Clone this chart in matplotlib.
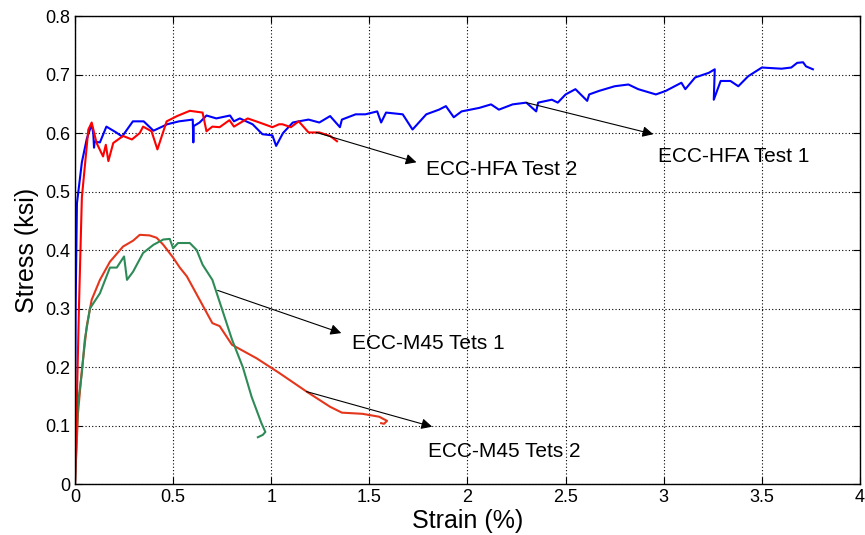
import matplotlib
matplotlib.use("Agg")
import matplotlib.pyplot as plt

# ECC-HFA Test 1 (blue)
hfa1_x = [0, 0.003, 0.01, 0.035, 0.06, 0.085, 0.093, 0.097, 0.10, 0.127, 0.16, 0.21, 0.24,
          0.295, 0.35, 0.40, 0.47, 0.53, 0.60, 0.603, 0.605, 0.635, 0.67, 0.72, 0.79,
          0.81, 0.84, 0.905, 0.955, 1.006, 1.025, 1.06, 1.11, 1.14, 1.19, 1.245, 1.30,
          1.35, 1.36, 1.43, 1.48, 1.54, 1.56, 1.585, 1.67, 1.72, 1.79, 1.855, 1.89,
          1.93, 1.97, 2.06, 2.12, 2.16, 2.23, 2.30, 2.35, 2.36, 2.43, 2.46, 2.50,
          2.55, 2.61, 2.62, 2.67, 2.75, 2.82, 2.87, 2.96, 3.01, 3.09, 3.11, 3.16,
          3.23, 3.26, 3.255, 3.29, 3.34, 3.38, 3.43, 3.50, 3.60, 3.65, 3.68, 3.71,
          3.725, 3.76]
hfa1_y = [0, 0.30, 0.48, 0.55, 0.59, 0.615, 0.60, 0.575, 0.585, 0.584, 0.611, 0.601, 0.594,
          0.62, 0.62, 0.604, 0.615, 0.62, 0.623, 0.584, 0.612, 0.618, 0.63, 0.625, 0.63,
          0.62, 0.625, 0.615, 0.598, 0.596, 0.578, 0.60, 0.618, 0.62, 0.623, 0.618, 0.629,
          0.61, 0.623, 0.632, 0.632, 0.637, 0.618, 0.635, 0.632, 0.606, 0.632, 0.64, 0.646,
          0.627, 0.637, 0.643, 0.649, 0.64, 0.649, 0.652, 0.637, 0.652, 0.657, 0.652, 0.666,
          0.675, 0.655, 0.666, 0.672, 0.68, 0.683, 0.675, 0.666, 0.672, 0.686, 0.675, 0.695,
          0.703, 0.709, 0.657, 0.689, 0.689, 0.68, 0.697, 0.712, 0.71, 0.712, 0.72, 0.721,
          0.714, 0.709]

# ECC-HFA Test 2 (red)
hfa2_x = [0, 0.02, 0.035, 0.068, 0.085, 0.11, 0.143, 0.157, 0.17, 0.195, 0.245, 0.29,
          0.33, 0.347, 0.39, 0.42, 0.467, 0.52, 0.585, 0.65, 0.67, 0.70, 0.737, 0.787,
          0.81, 0.88, 0.94, 1.006, 1.04, 1.057, 1.10, 1.14, 1.19, 1.245, 1.30, 1.335]
hfa2_y = [0, 0.30, 0.49, 0.606, 0.618, 0.583, 0.56, 0.58, 0.552, 0.583, 0.595, 0.589,
          0.60, 0.611, 0.603, 0.572, 0.62, 0.629, 0.638, 0.635, 0.603, 0.611, 0.61, 0.622,
          0.611, 0.625, 0.618, 0.61, 0.615, 0.615, 0.61, 0.62, 0.601, 0.601, 0.595, 0.586]

# ECC-M45 Tets 1 (green)
m45_1_x = [0, 0.015, 0.035, 0.05, 0.076, 0.127, 0.178, 0.213, 0.25, 0.265, 0.296, 0.347,
           0.40, 0.45, 0.483, 0.50, 0.525, 0.585, 0.62, 0.65, 0.70, 0.75, 0.80, 0.855,
           0.90, 0.95, 0.97, 0.957, 0.932]
m45_1_y = [0, 0.137, 0.19, 0.247, 0.30, 0.326, 0.37, 0.37, 0.389, 0.349, 0.363, 0.395,
           0.409, 0.418, 0.419, 0.403, 0.412, 0.412, 0.40, 0.375, 0.349, 0.298, 0.247, 0.20,
           0.149, 0.104, 0.089, 0.084, 0.080]

# ECC-M45 Tets 2 (orange-red)
m45_2_x = [0, 0.015, 0.035, 0.06, 0.085, 0.127, 0.178, 0.245, 0.296, 0.33, 0.38, 0.416,
           0.45, 0.50, 0.534, 0.57, 0.635, 0.70, 0.737, 0.80, 0.925, 1.04, 1.18, 1.30,
           1.36, 1.465, 1.55, 1.59, 1.575, 1.56]
m45_2_y = [0, 0.12, 0.195, 0.27, 0.315, 0.349, 0.38, 0.406, 0.416, 0.426, 0.425, 0.421,
           0.409, 0.387, 0.37, 0.355, 0.315, 0.275, 0.27, 0.238, 0.215, 0.19, 0.158, 0.132,
           0.122, 0.12, 0.115, 0.108, 0.103, 0.104]

# annotations: label, arrow tail, arrow head, text position
notes = [
    ("ECC-HFA Test 1", (2.30, 0.652), (2.947, 0.598), (2.97, 0.56)),
    ("ECC-HFA Test 2", (1.23, 0.601), (1.74, 0.55), (1.79, 0.537)),
    ("ECC-M45 Tets 1", (0.727, 0.331), (1.357, 0.258), (1.41, 0.241)),
    ("ECC-M45 Tets 2", (1.18, 0.158), (1.82, 0.098), (1.80, 0.055)),
]

plt.rcParams["font.family"] = ["Liberation Sans", "DejaVu Sans"]

fig = plt.figure(figsize=(8.65, 5.35), dpi=100)
ax = fig.add_axes([0.0867, 0.0953, 0.9075, 0.8747])

ax.plot(m45_2_x, m45_2_y, color="#e4361b", lw=1.5)
ax.plot(m45_1_x, m45_1_y, color="#2e8b57", lw=1.5)
ax.plot(hfa1_x, hfa1_y, color="#0000ff", lw=1.5)
ax.plot(hfa2_x, hfa2_y, color="#ff0000", lw=1.5)

for label, tail, head, txt in notes:
    ax.annotate("", xy=head, xytext=tail,
                arrowprops=dict(arrowstyle="-|>", color="k", lw=0.8,
                                mutation_scale=16, shrinkA=0, shrinkB=0))
    ax.text(txt[0], txt[1], label, fontsize=15, va="center", ha="left")

ax.set_xlim(0, 4)
ax.set_ylim(0, 0.8)
ax.set_xticks([0, 0.5, 1, 1.5, 2, 2.5, 3, 3.5, 4])
ax.set_xticklabels(["0", "0.5", "1", "1.5", "2", "2.5", "3", "3.5", "4"])
ax.set_yticks([0, 0.1, 0.2, 0.3, 0.4, 0.5, 0.6, 0.7, 0.8])
ax.set_yticklabels(["0", "0.1", "0.2", "0.3", "0.4", "0.5", "0.6", "0.7", "0.8"])
ax.tick_params(direction="in", top=True, right=True, labelsize=13, length=5)
ax.grid(True, color="k", linestyle=(0, (1, 2)), lw=0.8)
for s in ax.spines.values():
    s.set_linewidth(1.0)

ax.set_xlabel("Strain (%)", fontsize=18, labelpad=2)
ax.set_ylabel("Stress (ksi)", fontsize=18, labelpad=4)

fig.savefig("out.png", dpi=100)
